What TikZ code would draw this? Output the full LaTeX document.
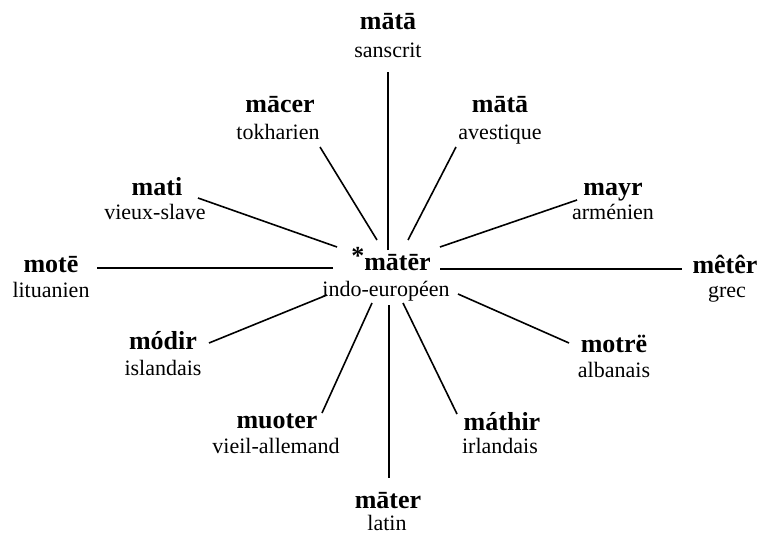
\documentclass[tikz,border=0pt]{standalone}
\usepackage{fontspec}
\setmainfont{Liberation Serif}
\begin{document}
\begin{tikzpicture}[x=1pt,y=-1pt,
  word/.style={anchor=base,inner sep=0pt,font=\fontsize{26}{26}\selectfont\bfseries},
  lang/.style={anchor=base,inner sep=0pt,font=\fontsize{22}{22}\selectfont},
  ray/.style={line width=1.6pt}]
\useasboundingbox (0,0) rectangle (760,535);

% centre: the reconstructed form
\node[word] (ie) at (391,270) {\raisebox{0.22em}{*}mātēr};
\node[lang] (ie-l) at (386,296) {indo-européen};

% attested forms
\node[word] (skt) at (388,30) {mātā};      \node[lang] (skt-l) at (388,58) {sanscrit};
\node[word] (tok) at (280,112) {mācer};    \node[lang] (tok-l) at (278,139) {tokharien};
\node[word] (ave) at (500,112) {mātā};     \node[lang] (ave-l) at (500,139) {avestique};
\node[word] (arm) at (613,195) {mayr};     \node[lang] (arm-l) at (613,219) {arménien};
\node[word] (sla) at (157,195) {mati};     \node[lang] (sla-l) at (155,219) {vieux-slave};
\node[word] (lit) at (51,272) {motē};      \node[lang] (lit-l) at (51,297) {lituanien};
\node[word] (grc) at (725,273) {mêtêr};    \node[lang] (grc-l) at (727,297) {grec};
\node[word] (isl) at (163,349) {módir};    \node[lang] (isl-l) at (163,375) {islandais};
\node[word] (alb) at (614,352) {motrë};    \node[lang] (alb-l) at (614,377) {albanais};
\node[word] (vha) at (277,428) {muoter};   \node[lang] (vha-l) at (276,453) {vieil-allemand};
\node[word] (irl) at (502,430) {máthir};   \node[lang] (irl-l) at (500,453) {irlandais};
\node[word] (lat) at (388,508) {māter};    \node[lang] (lat-l) at (387,530) {latin};

% ray end points: inner (i-) near the centre, outer (o-) near each form
\coordinate (i-skt) at (388,250); \coordinate (o-skt) at (388,72);
\coordinate (i-tok) at (377,240); \coordinate (o-tok) at (320,147);
\coordinate (i-ave) at (408,240); \coordinate (o-ave) at (456,147);
\coordinate (i-arm) at (440,247); \coordinate (o-arm) at (577,200);
\coordinate (i-sla) at (337,247); \coordinate (o-sla) at (198,198);
\coordinate (i-lit) at (333,268); \coordinate (o-lit) at (97,268);
\coordinate (i-grc) at (440,269); \coordinate (o-grc) at (682,269);
\coordinate (i-isl) at (327,295); \coordinate (o-isl) at (209,343);
\coordinate (i-alb) at (458,294); \coordinate (o-alb) at (569,343);
\coordinate (i-vha) at (372,303); \coordinate (o-vha) at (322,413);
\coordinate (i-irl) at (403,303); \coordinate (o-irl) at (457,414);
\coordinate (i-lat) at (389,305); \coordinate (o-lat) at (389,478);

\foreach \k in {skt,tok,ave,arm,sla,lit,grc,isl,alb,vha,irl,lat}
  \draw[ray] (i-\k) -- (o-\k);
\end{tikzpicture}
\end{document}
